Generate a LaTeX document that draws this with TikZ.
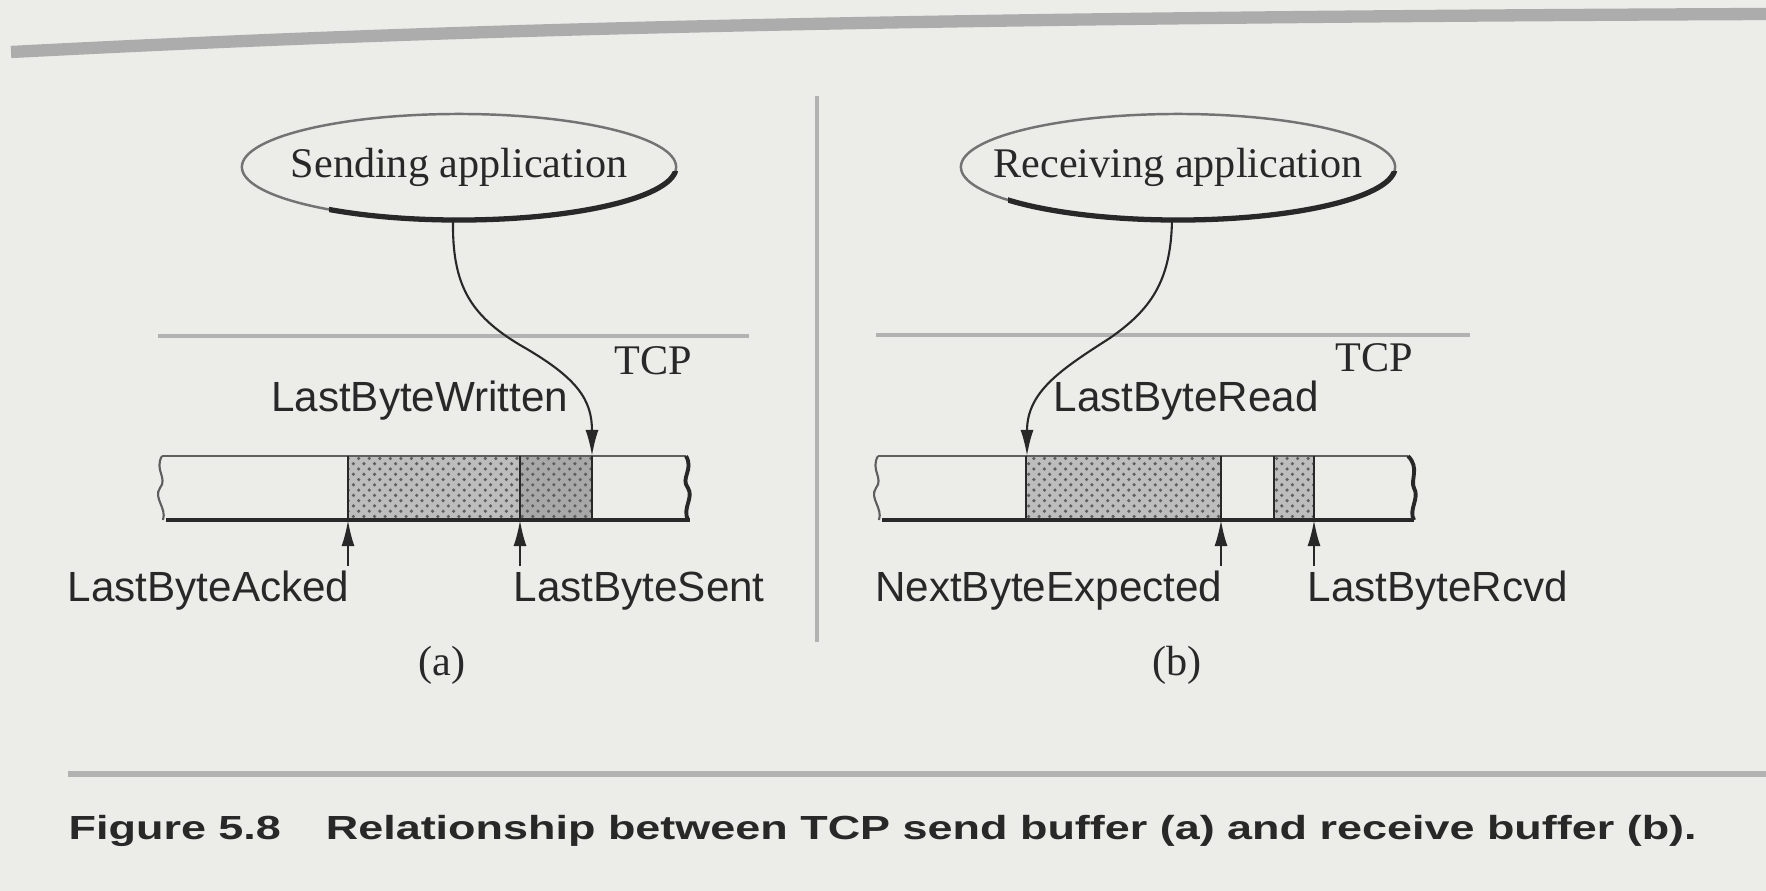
\documentclass[tikz,border=0pt]{standalone}
\usepackage{fontspec}
\setmainfont{Liberation Serif}
\setsansfont{Liberation Sans}
\usetikzlibrary{arrows.meta,shapes.geometric,patterns,calc}
\definecolor{bg}{RGB}{236,236,233}
\definecolor{ink}{RGB}{40,40,40}
\begin{document}
\begin{tikzpicture}[x=0.01cm,y=-0.01cm,
  app/.style={ellipse,draw=ink!65,line width=0.7pt,minimum width=4.34cm,minimum height=1.06cm,inner sep=0pt,outer sep=0pt},
  apptext/.style={font=\fontsize{12}{14}\selectfont,text=ink,inner sep=0pt},
  lbl/.style={font=\sffamily\fontsize{12}{14}\selectfont,text=ink,inner sep=0pt},
  ser/.style={font=\fontsize{12}{14}\selectfont,text=ink,inner sep=0pt},
  ptr/.style={-{Latex[length=2.6mm,width=1.3mm]},line width=0.6pt,draw=ink},
  rule/.style={draw=gray!60,line width=1.2pt},
  topline/.style={draw=ink!75,line width=0.6pt},
  botline/.style={draw=ink,line width=1.2pt},
  divline/.style={draw=ink,line width=0.7pt},
  shadeA/.style={fill=gray!52},
  shadeB/.style={fill=gray!68},
  dotsA/.style={pattern=crosshatch dots,pattern color=ink!75}
]
\fill[bg] (0,0) rectangle (1766,891);
\useasboundingbox (0,0) rectangle (1766,891);
% page edge and rules
\draw[draw=gray!65,line width=3.5pt] (11,52) .. controls (400,32) and (800,18) .. (1766,14);
\draw[rule] (817,96) -- (817,642);
\draw[rule] (158,336) -- (749,336);
\draw[rule] (876,335) -- (1470,335);
\draw[draw=gray!60,line width=1.6pt] (68,774) -- (1766,774);

% applications
\node[app] (sa) at (459,167) {};
\node[apptext] (sat) at (sa.center) {Sending application};
\node[app] (ra) at (1178,167) {};
\node[apptext] (rat) at (ra.center) {Receiving application};
\begin{scope}
\clip ($(sa.center)+(-130,5)$) rectangle ($(sa.center)+(240,80)$);
\draw[ink,line width=1.5pt] (sa.center) ellipse [x radius=2.17cm,y radius=0.53cm];
\end{scope}
\begin{scope}
\clip ($(ra.center)+(-170,5)$) rectangle ($(ra.center)+(240,80)$);
\draw[ink,line width=1.5pt] (ra.center) ellipse [x radius=2.17cm,y radius=0.53cm];
\end{scope}

% TCP labels
\node[ser,anchor=base west] (tcpa) at (614,374) {TCP};
\node[ser,anchor=base west] (tcpb) at (1335,372) {TCP};

% send buffer
\fill[shadeA] (348,456) rectangle (520,520);
\fill[dotsA] (348,456) rectangle (520,520);
\fill[shadeB] (520,456) rectangle (592,520);
\fill[dotsA] (520,456) rectangle (592,520);
\draw[topline] (162,456) -- (686,456);
\draw[botline] (166,520) -- (690,520);
\draw[topline] (162,456) .. controls (154,470) and (168,478) .. (160,488) .. controls (153,498) and (167,508) .. (163,520);
\draw[ink,line width=1.1pt] (686,456) .. controls (694,470) and (680,478) .. (688,488) .. controls (694,498) and (682,508) .. (688,520);
\draw[divline] (348,456) -- (348,520);
\draw[divline] (520,456) -- (520,520);
\draw[divline] (592,456) -- (592,520);

% receive buffer
\fill[shadeA] (1026,456) rectangle (1221,520);
\fill[dotsA] (1026,456) rectangle (1221,520);
\fill[shadeA] (1274,456) rectangle (1314,520);
\fill[dotsA] (1274,456) rectangle (1314,520);
\draw[topline] (878,456) -- (1408,456);
\draw[botline] (882,520) -- (1414,520);
\draw[topline] (878,456) .. controls (870,470) and (884,478) .. (876,488) .. controls (869,498) and (883,508) .. (879,520);
\draw[ink,line width=1.1pt] (1408,456) .. controls (1420,468) and (1410,480) .. (1414,488) .. controls (1420,498) and (1408,510) .. (1414,520);
\draw[divline] (1026,456) -- (1026,520);
\draw[divline] (1221,456) -- (1221,520);
\draw[divline] (1274,456) -- (1274,520);
\draw[divline] (1314,456) -- (1314,520);

% pointer targets
\coordinate (lbw) at (592,456);
\coordinate (lbr) at (1027,456);
\coordinate (pa) at (348,520);
\coordinate (ps) at (520,520);
\coordinate (pe) at (1221,520);
\coordinate (pr) at (1314,520);
\coordinate (pa0) at (348,566);
\coordinate (ps0) at (520,566);
\coordinate (pe0) at (1221,566);
\coordinate (pr0) at (1314,566);

% app connectors
\draw[ptr] ([xshift=-0.06cm]sa.south) .. controls (452,285) and (470,315) .. (520,345) .. controls (578,378) and (592,400) .. (lbw);
\draw[ptr] ([xshift=-0.06cm]ra.south) .. controls (1171,282) and (1150,310) .. (1110,338) .. controls (1060,370) and (1027,392) .. (lbr);

% top labels
\node[lbl,anchor=base east] (tlw) at (569,411) {LastByteWritten};
\node[lbl,anchor=base west] (tlr) at (1053,411) {LastByteRead};

% bottom pointers and labels
\draw[ptr] (pa0) -- (pa);
\draw[ptr] (ps0) -- (ps);
\draw[ptr] (pe0) -- (pe);
\draw[ptr] (pr0) -- (pr);
\node[lbl,anchor=base east] (tla) at (350,601) {LastByteAcked};
\node[lbl,anchor=base west] (tls) at (513,601) {LastByteSent};
\node[lbl,anchor=base east] (tle) at (1223,601) {NextByteExpected};
\node[lbl,anchor=base west] (tlc) at (1307,601) {LastByteRcvd};

% sub-captions
\node[ser] (capa) at (442,665) {(a)};
\node[ser] (capb) at (1177,665) {(b)};

% caption
\node[anchor=base west,inner sep=0pt,text=ink] (cap) at (68,839)
  {\resizebox{16.27cm}{\height}{\sffamily\bfseries\fontsize{9.5}{11}\selectfont Figure 5.8\quad Relationship between TCP send buffer (a) and receive buffer (b).}};
\end{tikzpicture}
\end{document}
